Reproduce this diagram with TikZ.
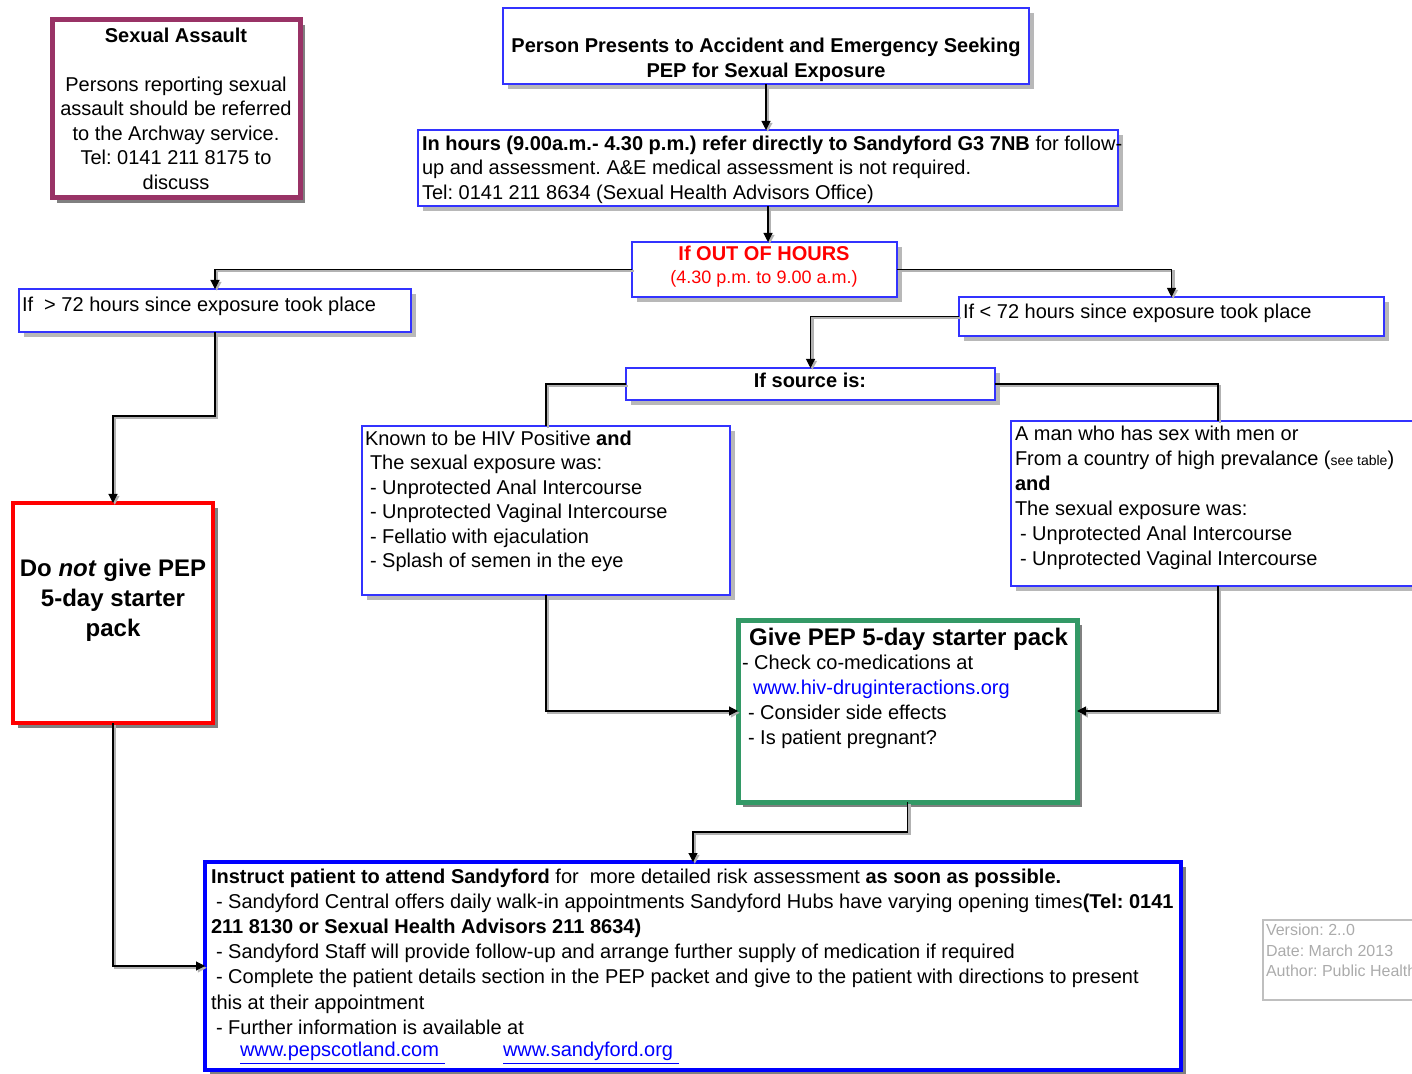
\documentclass[tikz,border=0pt]{standalone}
\usepackage{fontspec}
\setmainfont{Liberation Sans}
\usetikzlibrary{arrows.meta,shadows}
\definecolor{bblue}{RGB}{51,51,255}
\definecolor{maroonb}{RGB}{153,51,102}
\definecolor{gbox}{RGB}{51,153,102}
\definecolor{lnk}{RGB}{0,0,255}
\frenchspacing
\begin{document}
\frenchspacing
\begin{tikzpicture}[x=0.5pt,y=-0.5pt,
  every node/.style={inner sep=0pt, outer sep=0pt},
  box/.style={rectangle, draw=bblue, line width=0.8pt, fill=white,
    drop shadow={shadow xshift=2.5pt, shadow yshift=-2.5pt, fill=black!28, opacity=1}},
  darkshadow/.style={drop shadow={shadow xshift=2.5pt, shadow yshift=-2.5pt, fill=black!50, opacity=1}},
  txt/.style={font=\fontsize{10}{12.25}\selectfont, align=left, anchor=north west},
  line/.style={draw=black, line width=0.55pt,
    preaction={draw=black!30, line width=1.2pt, transform canvas={shift={(0.9pt,-0.9pt)}}}},
  conn/.style={line, -{Triangle[length=4.5pt,width=4.5pt]}}
]
\useasboundingbox (0,0) rectangle (1412,1074);
\clip (0,0) rectangle (1412,1074);

% boxes
\node[box, draw=maroonb, line width=2.5pt, darkshadow, minimum width=124pt, minimum height=89pt] (sa) at (176,109) {};
\node[box, minimum width=263pt, minimum height=38pt] (pres) at (766,46) {};
\node[box, minimum width=350pt, minimum height=38pt] (inh) at (768,168) {};
\node[box, minimum width=132.5pt, minimum height=27.5pt] (ooh) at (764.5,269.5) {};
\node[box, minimum width=196pt, minimum height=21.5pt] (gt) at (215,310.5) {};
\node[box, minimum width=212.5pt, minimum height=19.5pt] (lt) at (1171.5,316.5) {};
\node[box, minimum width=184.5pt, minimum height=16pt] (src) at (810.5,384) {};
\node[box, minimum width=184pt, minimum height=84.5pt] (hiv) at (546,510.5) {};
\node[box, minimum width=207pt, minimum height=82.5pt] (msm) at (1218,503.5) {};
\node[box, draw=red, line width=2pt, darkshadow, minimum width=100pt, minimum height=110pt] (dont) at (113,613) {};
\node[box, draw=gbox, line width=2.5pt, darkshadow, minimum width=169.5pt, minimum height=91pt] (give) at (907.5,711) {};
\node[box, draw=lnk, line width=2pt, darkshadow, minimum width=488pt, minimum height=104pt] (instr) at (693,966) {};
\node[rectangle, draw=black!25, line width=0.6pt, minimum width=83.5pt, minimum height=40pt] (ver) at (1346.5,960) {};

% texts
\node[txt, align=center, anchor=north] (satxt) at (176,28)
  {\textbf{Sexual Assault}\\[12.25pt] Persons reporting sexual\\ assault should be referred\\ to the Archway service.\\ Tel: 0141 211 8175 to\\ discuss};
\node[txt, align=center, anchor=north, font=\fontsize{10}{12.5}\selectfont\bfseries] (prestxt) at (766,38)
  {Person Presents to Accident and Emergency Seeking\\ PEP for Sexual Exposure};
\node[txt] (inhtxt) at (422,136)
  {\textbf{In hours (9.00a.m.- 4.30 p.m.) refer directly to Sandyford G3 7NB} for follow-\\
   up and assessment. A\&E medical assessment is not required.\\
   Tel: 0141 211 8634 (Sexual Health Advisors Office)};
\node[anchor=base, font=\fontsize{10}{12}\selectfont\bfseries, text=red] (oohtxt1) at (764,261) {If OUT OF HOURS};
\node[anchor=base, font=\fontsize{9}{11}\selectfont, text=red] (oohtxt2) at (764,283.5) {(4.30 p.m. to 9.00 a.m.)};
\node[anchor=base west, font=\fontsize{10}{12}\selectfont] (gttxt) at (22,312) {If\ \ > 72 hours since exposure took place};
\node[anchor=base west, font=\fontsize{10}{12}\selectfont] (lttxt) at (963,319) {If < 72 hours since exposure took place};
\node[anchor=base, font=\fontsize{10}{12}\selectfont\bfseries] (srctxt) at (810,388) {If source is:};
\node[txt] (hivtxt) at (365,431)
  {Known to be HIV Positive \textbf{and}\\
   \hspace*{2.5pt}The sexual exposure was:\\
   \hspace*{2.5pt}- Unprotected Anal Intercourse\\
   \hspace*{2.5pt}- Unprotected Vaginal Intercourse\\
   \hspace*{2.5pt}- Fellatio with ejaculation\\
   \hspace*{2.5pt}- Splash of semen in the eye};
\node[txt, font=\fontsize{10}{12.45}\selectfont] (msmtxt) at (1015,426.5)
  {A man who has sex with men or\\
   From a country of high prevalance ({\fontsize{7}{8}\selectfont see table})\\
   \textbf{and}\\
   The sexual exposure was:\\
   \hspace*{2.5pt}- Unprotected Anal Intercourse\\
   \hspace*{2.5pt}- Unprotected Vaginal Intercourse};
\node[anchor=north, align=center, font=\fontsize{12}{15}\selectfont\bfseries] (donttxt) at (113,559)
  {Do \textit{not} give PEP\\ 5-day starter\\ pack};
\node[anchor=base, font=\fontsize{12}{14}\selectfont\bfseries] (givetitle) at (908.5,645) {Give PEP 5-day starter pack};
\node[txt, font=\fontsize{10}{12.4}\selectfont] (givetxt) at (742,655.5)
  {- Check co-medications at\\
   \hspace*{5.5pt}\textcolor{lnk}{www.hiv-druginteractions.org}\\
   \hspace*{3pt}- Consider side effects\\
   \hspace*{3pt}- Is patient pregnant?};
\node[txt, font=\fontsize{10}{12.55}\selectfont] (instrtxt) at (211,869)
  {\textbf{Instruct patient to attend Sandyford} for\ \ more detailed risk assessment \textbf{as soon as possible.}\\
   \hspace*{2.5pt}- Sandyford Central offers daily walk-in appointments Sandyford Hubs have varying opening times\textbf{(Tel: 0141}\\
   \textbf{211 8130 or Sexual Health Advisors 211 8634)}\\
   \hspace*{2.5pt}- Sandyford Staff will provide follow-up and arrange further supply of medication if required\\
   \hspace*{2.5pt}- Complete the patient details section in the PEP packet and give to the patient with directions to present\\
   this at their appointment\\
   \hspace*{2.5pt}- Further information is available at};
\node[anchor=base west, font=\fontsize{10}{12}\selectfont, text=lnk] (link1) at (240,1056) {\underline{www.pepscotland.com\ }};
\node[anchor=base west, font=\fontsize{10}{12}\selectfont, text=lnk] (link2) at (503,1056) {\underline{www.sandyford.org\ }};
\node[txt, font=\fontsize{8}{10.3}\selectfont, text=black!33] (vertxt) at (1266,924)
  {Version: 2..0\\ Date: March 2013\\ Author: Public Health};

% connectors
\draw[conn] (pres.south) -- (pres.south |- inh.north);
\draw[conn] (inh.south) -- (inh.south |- ooh.north);
\draw[conn] (ooh.west) -| (gt.north);
\draw[conn] (ooh.east) -| (lt.north);
\draw[conn] (lt.west) -| (src.north);
\draw[line] (src.west) -| (hiv.north);
\draw[line] (src.east) -| (msm.north);
\draw[conn] (hiv.south) |- (give.west);
\draw[conn] (msm.south) |- (give.east);
\coordinate (c1) at (215,416);
\draw[conn] (gt.south) -- (c1) -| (dont.north);
\draw[conn] (dont.south) |- (instr.west);
\coordinate (c2) at (907.5,832);
\draw[conn] (give.south) -- (c2) -| (instr.north);
\end{tikzpicture}
\end{document}
